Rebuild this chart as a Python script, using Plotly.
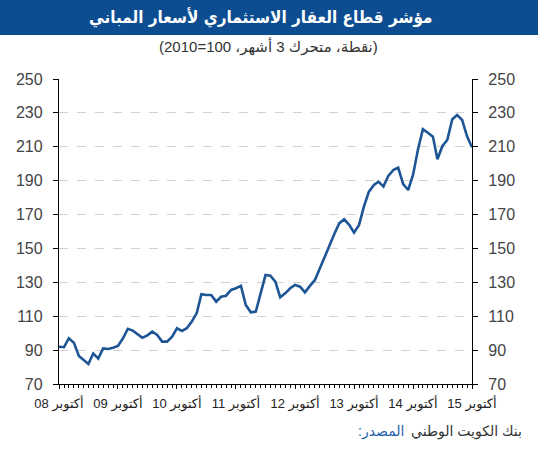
import plotly.graph_objects as go
import pandas as pd

# Monthly index values, Oct 2008 .. Oct 2015 (3-month moving average, 2010=100)
values = [
    92.0, 91.7, 97.0, 94.4, 86.5, 84.0, 81.8, 88.0, 85.0, 91.0, 90.7, 91.4,
    92.4, 97.0, 102.6, 101.5, 99.3, 97.3, 98.7, 100.9, 98.9, 95.0, 95.0, 97.9,
    102.9, 101.3, 102.9, 106.8, 112.0, 123.0, 122.5, 122.5, 118.6, 121.5, 122.1, 125.5,
    126.5, 127.9, 116.6, 112.3, 112.7, 123.5, 134.3, 133.9, 130.4, 121.2, 123.5, 126.5,
    128.4, 127.4, 124.1, 127.9, 131.4, 137.7, 145.1, 152.0, 158.5, 164.8, 167.2, 163.9,
    159.3, 163.9, 174.7, 183.5, 187.5, 189.4, 186.5, 192.8, 196.3, 197.7, 187.9, 184.5,
    193.4, 208.5, 220.4, 218.3, 216.0, 202.6, 210.5, 214.0, 226.3, 228.8, 225.8, 216.0,
    209.7,
]
start_month = "2008-10-01"
tick_years = ["08", "09", "10", "11", "12", "13", "14", "15"]
tick_month_name = "أكتوبر"
y_ticks = [70, 90, 110, 130, 150, 170, 190, 210, 230, 250]

title_text = "مؤشر قطاع العقار الاستثماري لأسعار المباني"
subtitle_text = "(نقطة، متحرك 3 أشهر، 100=2010)"
source_label = ":المصدر"
source_text = "بنك الكويت الوطني"

dates = pd.date_range(start_month, periods=len(values), freq="MS")
tick_dates = [f"20{y}-10-01" for y in tick_years]
tick_text = [f"{tick_month_name} {y}" for y in tick_years]

W, H = 538, 450
L, R, T, B = 59, 66, 79, 66
PW, PH = W - L - R, H - T - B

def px_x(x):
    return (x - L) / PW

def px_y(y):
    return (H - B - y) / PH

LINE = "#1d5595"
BAND = "#0c4d92"
FONT = "Liberation Sans, Arial, DejaVu Sans, sans-serif"
TITLE_FONT = "DejaVu Sans Condensed, DejaVu Sans, sans-serif"

fig = go.Figure()
fig.add_trace(go.Scatter(x=dates, y=values, mode="lines",
                         line=dict(color=LINE, width=2.6), hoverinfo="skip",
                         showlegend=False))
fig.add_trace(go.Scatter(x=dates, y=values, mode="lines", yaxis="y2",
                         line=dict(color="rgba(0,0,0,0)", width=0), hoverinfo="skip",
                         showlegend=False))

common_y = dict(range=[70, 250], tickvals=y_ticks, ticks="outside", ticklen=5,
                tickcolor="#000", tickwidth=1, showline=True, linecolor="#000",
                linewidth=1.3, zeroline=False, ticklabelstandoff=7,
                tickfont=dict(family=FONT, size=16, color="#444"), fixedrange=True)

fig.update_layout(
    width=W, height=H,
    margin=dict(l=L, r=R, t=T, b=B),
    paper_bgcolor="white", plot_bgcolor="white",
    showlegend=False,
    xaxis=dict(type="date", range=[dates[0], dates[-1]], tickvals=tick_dates,
               ticktext=tick_text, ticks="outside", ticklen=4, tickcolor="#000",
               showline=True, linecolor="#000", linewidth=1.3, showgrid=False,
               zeroline=False, ticklabelstandoff=3,
               tickfont=dict(family=FONT, size=13, color="#222"),
               minor=dict(tick0=start_month, dtick="M1", ticks="outside", ticklen=3,
                          tickcolor="#000", showgrid=False)),
    yaxis=dict(side="left", showgrid=True, gridcolor="#d2d2d2", griddash="dash",
               gridwidth=1, **common_y),
    yaxis2=dict(side="right", overlaying="y", showgrid=False, **common_y),
    shapes=[dict(type="rect", xref="paper", yref="paper",
                 x0=px_x(0), x1=px_x(W), y0=px_y(35), y1=px_y(0),
                 fillcolor=BAND, line=dict(width=0), layer="below")],
    annotations=[
        dict(text=f"<b>{title_text}</b>", xref="paper", yref="paper",
             x=px_x(261), y=px_y(17), xanchor="center", yanchor="middle",
             showarrow=False, font=dict(family=TITLE_FONT, size=17, color="white")),
        dict(text=subtitle_text, xref="paper", yref="paper",
             x=px_x(268), y=px_y(46), xanchor="center", yanchor="middle",
             showarrow=False, font=dict(family=FONT, size=15, color="#333")),
        dict(text=source_text, xref="paper", yref="paper",
             x=px_x(524), y=px_y(431), xanchor="right", yanchor="middle",
             showarrow=False, font=dict(family=FONT, size=14, color="#333")),
        dict(text=source_label, xref="paper", yref="paper",
             x=px_x(406), y=px_y(431), xanchor="right", yanchor="middle",
             showarrow=False, font=dict(family=FONT, size=14, color="#1f5fae")),
    ],
)

fig.write_html("out.html")
